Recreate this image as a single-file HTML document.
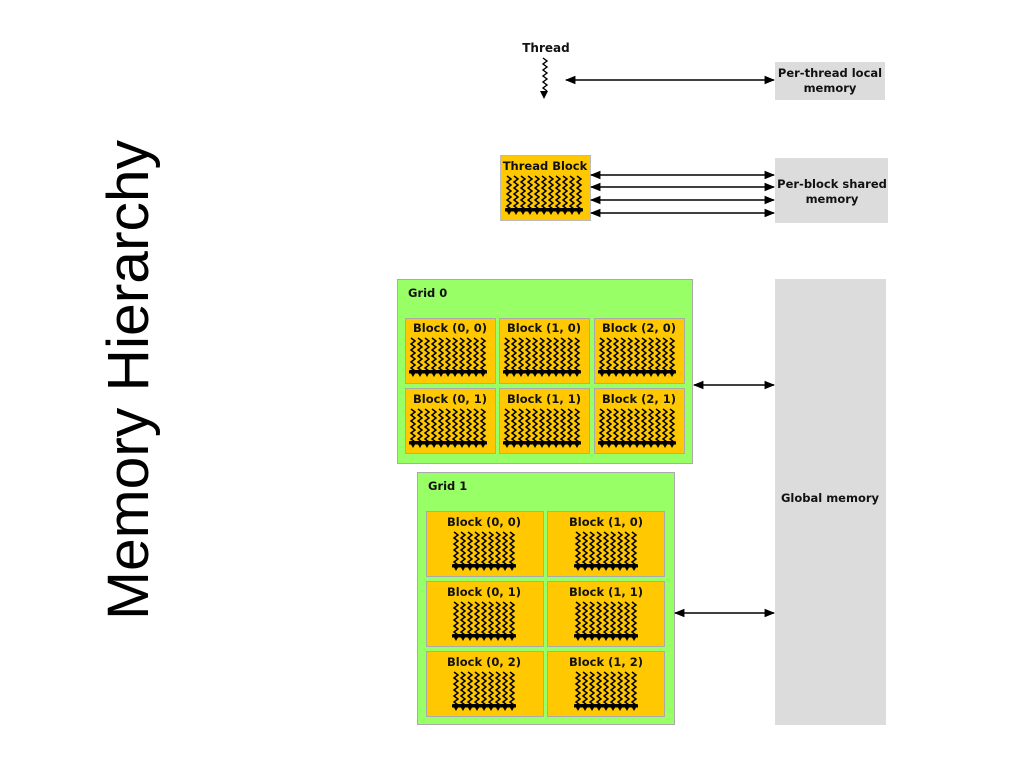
<!DOCTYPE html>
<html><head><meta charset="utf-8"><style>
html,body{margin:0;padding:0;background:#fff;width:1024px;height:768px;overflow:hidden}
svg{display:block}
text{font-family:"DejaVu Sans","Liberation Sans",sans-serif;font-weight:bold;fill:#111}
</style></head><body>
<svg width="1024" height="768" viewBox="0 0 1024 768" xmlns="http://www.w3.org/2000/svg">
<defs>
<marker id="ah" viewBox="0 0 10 10" refX="9" refY="5" markerWidth="7" markerHeight="7" orient="auto-start-reverse"><path d="M0,1 L10,5 L0,9 z" fill="#000"/></marker>
<symbol id="s" overflow="visible">
<polyline points="0,0 4,3 0,6 4,9 0,12 4,15 0,18 4,21 0,24 4,27 0,30 4,33" fill="none" stroke="#000" stroke-width="1.5"/>
<polygon points="-2,32 6,32 2,39" fill="#000"/>
</symbol>
<g id="b11">
<use href="#s" x="0"/><use href="#s" x="7"/><use href="#s" x="14"/><use href="#s" x="21"/><use href="#s" x="28"/><use href="#s" x="35"/><use href="#s" x="42"/><use href="#s" x="49"/><use href="#s" x="56"/><use href="#s" x="63"/><use href="#s" x="70"/>
<rect x="-2" y="33" width="78" height="2.5" fill="#000"/>
</g>
<g id="b9">
<use href="#s" x="0"/><use href="#s" x="7"/><use href="#s" x="14"/><use href="#s" x="21"/><use href="#s" x="28"/><use href="#s" x="35"/><use href="#s" x="42"/><use href="#s" x="49"/><use href="#s" x="56"/>
<rect x="-2" y="33" width="64" height="2.5" fill="#000"/>
</g>
</defs>

<text x="148" y="380" transform="rotate(-90 148 380)" text-anchor="middle" textLength="480" lengthAdjust="spacingAndGlyphs" style="font-family:'Liberation Sans',sans-serif;font-weight:normal;font-size:58px;fill:#000">Memory Hierarchy</text>

<!-- Thread -->
<text x="546" y="52" font-size="12" text-anchor="middle">Thread</text>
<polyline points="543,58 547,61 543,64 547,67 543,70 547,73 543,76 547,79 543,82 547,85 543,88 547,91" fill="none" stroke="#000" stroke-width="1.4"/>
<polygon points="540,91 548,91 544,99" fill="#000"/>
<line x1="566" y1="80" x2="774" y2="80" stroke="#000" stroke-width="1.5" marker-start="url(#ah)" marker-end="url(#ah)"/>
<rect x="775" y="62" width="110" height="38" fill="#dcdcdc"/>
<text x="830" y="77" font-size="11.5" text-anchor="middle">Per-thread local</text>
<text x="830" y="92" font-size="11.5" text-anchor="middle">memory</text>

<!-- Thread block -->
<rect x="500.5" y="155.5" width="90" height="65" fill="#ffc800" stroke="#bbb"/>
<text x="545" y="170" font-size="11.5" text-anchor="middle">Thread Block</text>
<use href="#b11" x="507" y="176"/>
<line x1="591" y1="175" x2="774" y2="175" stroke="#000" stroke-width="1.5" marker-start="url(#ah)" marker-end="url(#ah)"/>
<line x1="591" y1="187" x2="774" y2="187" stroke="#000" stroke-width="1.5" marker-start="url(#ah)" marker-end="url(#ah)"/>
<line x1="591" y1="200" x2="774" y2="200" stroke="#000" stroke-width="1.5" marker-start="url(#ah)" marker-end="url(#ah)"/>
<line x1="591" y1="213" x2="774" y2="213" stroke="#000" stroke-width="1.5" marker-start="url(#ah)" marker-end="url(#ah)"/>
<rect x="775" y="158" width="113" height="65" fill="#dcdcdc"/>
<text x="832" y="188" font-size="11.5" text-anchor="middle">Per-block shared</text>
<text x="832" y="203" font-size="11.5" text-anchor="middle">memory</text>

<!-- Global -->
<rect x="775" y="279" width="111" height="446" fill="#dcdcdc"/>
<text x="830" y="502" font-size="11.5" text-anchor="middle">Global memory</text>

<!-- Grid 0 -->
<rect x="397.5" y="279.5" width="295" height="184" fill="#99ff66" stroke="#aaa"/>
<text x="408" y="297" font-size="11.5">Grid 0</text>
<g font-size="11.5" text-anchor="middle">
<rect x="405.5" y="318.5" width="90" height="65" fill="#ffc800" stroke="#aaa"/>
<rect x="499.5" y="318.5" width="90" height="65" fill="#ffc800" stroke="#aaa"/>
<rect x="594.5" y="318.5" width="90" height="65" fill="#ffc800" stroke="#aaa"/>
<rect x="405.5" y="388.5" width="90" height="65" fill="#ffc800" stroke="#aaa"/>
<rect x="499.5" y="388.5" width="90" height="65" fill="#ffc800" stroke="#aaa"/>
<rect x="594.5" y="388.5" width="90" height="65" fill="#ffc800" stroke="#aaa"/>
<text x="450" y="332">Block (0, 0)</text>
<text x="544" y="332">Block (1, 0)</text>
<text x="639" y="332">Block (2, 0)</text>
<text x="450" y="403">Block (0, 1)</text>
<text x="544" y="403">Block (1, 1)</text>
<text x="639" y="403">Block (2, 1)</text>
</g>
<use href="#b11" x="411" y="338"/><use href="#b11" x="505" y="338"/><use href="#b11" x="600" y="338"/>
<use href="#b11" x="411" y="409"/><use href="#b11" x="505" y="409"/><use href="#b11" x="600" y="409"/>
<line x1="694" y1="385" x2="774" y2="385" stroke="#000" stroke-width="1.5" marker-start="url(#ah)" marker-end="url(#ah)"/>

<!-- Grid 1 -->
<rect x="417.5" y="472.5" width="257" height="252" fill="#99ff66" stroke="#aaa"/>
<text x="428" y="490" font-size="11.5">Grid 1</text>
<g font-size="11.5" text-anchor="middle">
<rect x="426.5" y="511.5" width="117" height="65" fill="#ffc800" stroke="#aaa"/>
<rect x="547.5" y="511.5" width="117" height="65" fill="#ffc800" stroke="#aaa"/>
<rect x="426.5" y="581.5" width="117" height="65" fill="#ffc800" stroke="#aaa"/>
<rect x="547.5" y="581.5" width="117" height="65" fill="#ffc800" stroke="#aaa"/>
<rect x="426.5" y="651.5" width="117" height="65" fill="#ffc800" stroke="#aaa"/>
<rect x="547.5" y="651.5" width="117" height="65" fill="#ffc800" stroke="#aaa"/>
<text x="484" y="526">Block (0, 0)</text>
<text x="606" y="526">Block (1, 0)</text>
<text x="484" y="596">Block (0, 1)</text>
<text x="606" y="596">Block (1, 1)</text>
<text x="484" y="666">Block (0, 2)</text>
<text x="606" y="666">Block (1, 2)</text>
</g>
<use href="#b9" x="454" y="532"/><use href="#b9" x="576" y="532"/>
<use href="#b9" x="454" y="602"/><use href="#b9" x="576" y="602"/>
<use href="#b9" x="454" y="672"/><use href="#b9" x="576" y="672"/>
<line x1="675" y1="613" x2="774" y2="613" stroke="#000" stroke-width="1.5" marker-start="url(#ah)" marker-end="url(#ah)"/>
</svg>
</body></html>
